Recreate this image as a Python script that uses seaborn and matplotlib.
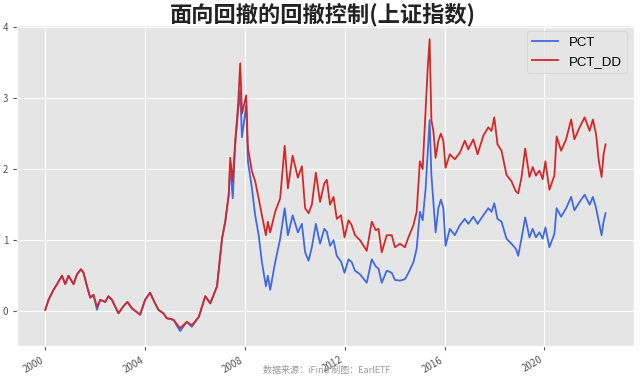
import numpy as np
import pandas as pd
import matplotlib
matplotlib.use("Agg")
import matplotlib.pyplot as plt
import matplotlib.dates as mdates
import seaborn as sns

# values (decimal year, cumulative return)
years = [
    2000.00, 2000.13, 2000.33, 2000.47, 2000.67, 2000.80, 2000.93, 2001.13, 2001.27, 2001.43,
    2001.53, 2001.67, 2001.80, 2001.93, 2002.07, 2002.20, 2002.40, 2002.53, 2002.67, 2002.93,
    2003.13, 2003.29, 2003.47, 2003.80, 2004.00, 2004.20, 2004.33, 2004.53, 2004.73, 2004.87,
    2005.13, 2005.40, 2005.67, 2005.87, 2006.15, 2006.41, 2006.61, 2006.88, 2007.08, 2007.21,
    2007.35, 2007.41, 2007.51, 2007.61, 2007.72, 2007.81, 2007.88, 2008.05, 2008.12, 2008.28,
    2008.41, 2008.55, 2008.68, 2008.84, 2008.92, 2009.01, 2009.21, 2009.41, 2009.59, 2009.72,
    2009.91, 2010.12, 2010.28, 2010.41, 2010.55, 2010.68, 2010.84, 2011.01, 2011.18, 2011.28,
    2011.41, 2011.55, 2011.68, 2011.85, 2011.99, 2012.15, 2012.28, 2012.41, 2012.61, 2012.88,
    2013.08, 2013.24, 2013.35, 2013.48, 2013.68, 2013.88, 2014.01, 2014.21, 2014.41, 2014.55,
    2014.75, 2014.88, 2015.01, 2015.12, 2015.24, 2015.32, 2015.40, 2015.47, 2015.55, 2015.64,
    2015.75, 2015.85, 2015.95, 2016.04, 2016.21, 2016.41, 2016.61, 2016.81, 2016.95, 2017.15,
    2017.32, 2017.55, 2017.75, 2017.88, 2017.99, 2018.12, 2018.28, 2018.48, 2018.68, 2018.85,
    2018.95, 2019.08, 2019.23, 2019.40, 2019.53, 2019.66, 2019.80, 2019.93, 2020.04, 2020.20,
    2020.40, 2020.49, 2020.67, 2020.87, 2021.07, 2021.20, 2021.41, 2021.61, 2021.81, 2021.94,
    2022.07, 2022.18, 2022.29, 2022.37, 2022.45,
]
pct = [
    0.02, 0.16, 0.30, 0.38, 0.50, 0.38, 0.50, 0.38, 0.52, 0.59,
    0.54, 0.35, 0.19, 0.23, 0.02, 0.16, 0.13, 0.21, 0.16, -0.03,
    0.07, 0.13, 0.04, -0.05, 0.16, 0.26, 0.16, 0.02, -0.03, -0.10,
    -0.12, -0.28, -0.15, -0.22, -0.08, 0.21, 0.11, 0.35, 1.02, 1.26,
    1.64, 2.07, 1.59, 2.35, 2.80, 3.11, 2.45, 2.90, 2.11, 1.73,
    1.35, 1.07, 0.69, 0.35, 0.50, 0.30, 0.69, 1.02, 1.45, 1.07,
    1.35, 1.11, 1.23, 0.83, 0.71, 0.90, 1.23, 0.95, 1.16, 1.12,
    0.92, 1.00, 0.78, 0.70, 0.54, 0.73, 0.69, 0.57, 0.52, 0.40,
    0.73, 0.63, 0.60, 0.40, 0.57, 0.54, 0.44, 0.43, 0.45, 0.54,
    0.69, 0.88, 1.40, 1.28, 1.73, 2.21, 2.69, 1.92, 1.54, 1.11,
    1.45, 1.57, 1.45, 0.92, 1.16, 1.07, 1.21, 1.30, 1.23, 1.33,
    1.23, 1.35, 1.45, 1.40, 1.52, 1.30, 1.26, 1.02, 0.95, 0.88,
    0.78, 1.02, 1.32, 1.04, 1.16, 1.04, 1.11, 1.02, 1.18, 0.90,
    1.09, 1.45, 1.33, 1.45, 1.61, 1.42, 1.54, 1.64, 1.50, 1.61,
    1.45, 1.26, 1.07, 1.26, 1.38,
]
pct_dd = [
    0.02, 0.16, 0.30, 0.38, 0.50, 0.38, 0.50, 0.38, 0.52, 0.59,
    0.54, 0.35, 0.19, 0.23, 0.06, 0.16, 0.13, 0.21, 0.16, -0.03,
    0.07, 0.13, 0.04, -0.05, 0.16, 0.26, 0.16, 0.02, -0.03, -0.10,
    -0.12, -0.24, -0.15, -0.20, -0.08, 0.21, 0.11, 0.35, 1.02, 1.26,
    1.64, 2.16, 1.83, 2.40, 2.88, 3.49, 2.78, 3.04, 2.30, 1.97,
    1.83, 1.59, 1.35, 1.07, 1.26, 1.11, 1.40, 1.59, 2.33, 1.73,
    2.19, 1.88, 2.04, 1.45, 1.38, 1.50, 1.95, 1.54, 1.80, 1.85,
    1.50, 1.61, 1.30, 1.35, 1.04, 1.28, 1.21, 1.07, 1.00, 0.85,
    1.26, 1.14, 1.16, 0.83, 1.07, 1.07, 0.90, 0.95, 0.90, 1.04,
    1.21, 1.40, 2.11, 2.00, 2.85, 3.40, 3.83, 2.69, 2.54, 2.16,
    2.40, 2.50, 2.40, 2.02, 2.21, 2.14, 2.23, 2.40, 2.28, 2.42,
    2.21, 2.47, 2.59, 2.54, 2.73, 2.35, 2.26, 1.92, 1.83, 1.69,
    1.66, 1.88, 2.29, 1.89, 2.03, 1.91, 1.98, 1.86, 2.11, 1.71,
    1.91, 2.46, 2.26, 2.42, 2.70, 2.42, 2.59, 2.73, 2.54, 2.70,
    2.49, 2.11, 1.89, 2.21, 2.35,
]

# decimal years -> timestamps
yr = np.array(years)
base = np.floor(yr).astype(int)
dates = pd.to_datetime(base.astype(str)) + pd.to_timedelta((yr - base) * 365.25, unit="D")

df = pd.DataFrame({"date": dates, "PCT": pct, "PCT_DD": pct_dd})
long_df = df.melt(id_vars="date", var_name="series", value_name="value")

plt.style.use("ggplot")
plt.rcParams["font.family"] = ["Noto Sans CJK SC", "DejaVu Sans"]
plt.rcParams["axes.unicode_minus"] = False

fig, ax = plt.subplots(figsize=(6.4, 3.79), dpi=100)
plt.subplots_adjust(left=0.027, right=0.99, top=0.935, bottom=0.088)

sns.lineplot(
    data=long_df, x="date", y="value", hue="series",
    palette={"PCT": "royalblue", "PCT_DD": "#d62728"},
    linewidth=1.3, ax=ax,
)

ax.xaxis.set_major_locator(mdates.YearLocator(4))
ax.xaxis.set_major_formatter(mdates.DateFormatter("%Y"))
ax.set_xlabel("")
ax.set_ylabel("")
ax.tick_params(axis="both", labelsize=7, colors="#555555", length=3)
plt.setp(ax.get_xticklabels(), rotation=30, ha="right")

ax.legend(loc="upper right", title=None,
          prop={"family": "Liberation Sans", "size": 9.5})

fig.text(0.505, 0.962, "面向回撤的回撤控制(上证指数)", ha="center", va="center",
         fontsize=16, fontweight="bold", color="#222222")
fig.text(0.51, 0.022, "数据来源：iFind 制图：EarlETF", ha="center", va="center",
         fontsize=6.5, color="#999999")

fig.savefig("out.png", dpi=100)
